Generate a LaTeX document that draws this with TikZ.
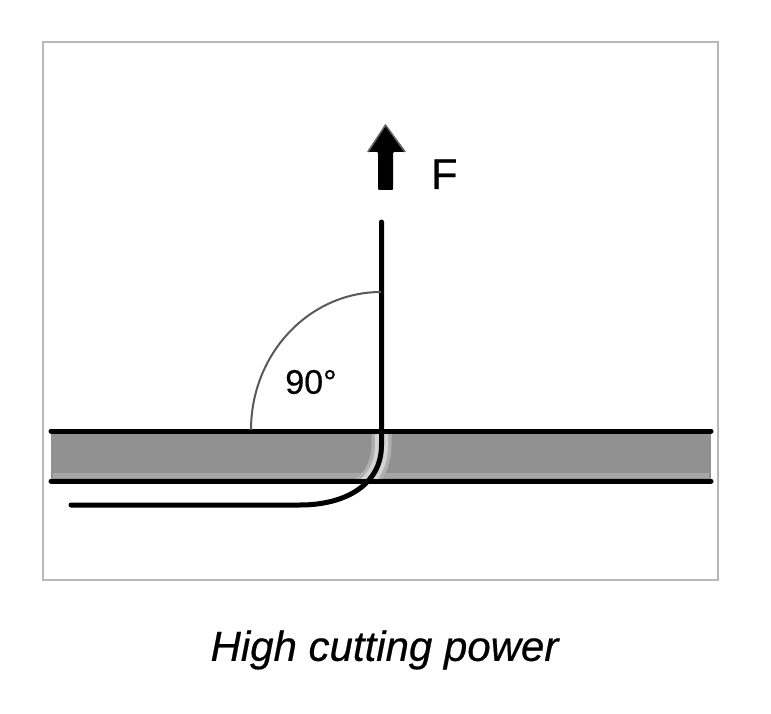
\documentclass[tikz,border=0pt]{standalone}
\usepackage{fontspec}
\setmainfont{Liberation Sans}
\newfontfamily\heavyfont[FakeBold=0.5]{Liberation Sans}
\usepackage{xcolor}
\usetikzlibrary{shapes,arrows,positioning}

\definecolor{framegray}{gray}{0.72}
\definecolor{platefill}{gray}{0.57}
\definecolor{platebevel}{gray}{0.65}
\definecolor{halogray}{gray}{0.83}

\begin{document}
\begin{tikzpicture}[
    x=1pt, y=-1pt,
    frame/.style={draw=framegray, line width=2pt, fill=white},
    edge/.style={black, line width=5pt, line cap=round},
    wire/.style={black, line width=5pt, line cap=round},
    halo/.style={line width=#1, line cap=butt},
    label/.style={inner sep=0pt, text=black}
]
    \useasboundingbox (0,0) rectangle (771,714);
    \fill[white] (0,0) rectangle (771,714);

    % Frame
    \draw[frame] (43,42) rectangle (718,580);

    % Coordinates of the plate and wire
    \coordinate (plateTL) at (51,431);
    \coordinate (plateTR) at (711,431);
    \coordinate (plateBL) at (51,481);
    \coordinate (plateBR) at (711,481);
    \coordinate (wireStart) at (71,505);
    \coordinate (wireFlat) at (300,505);
    \coordinate (wireBend) at (381.5,445);
    \coordinate (wireEnd) at (381.5,222);

    % Plate
    \fill[platefill] (plateTL) rectangle (plateBR);
    \draw[platebevel, line width=5pt] (53,475) -- (709,475);
    \begin{scope}
        \clip (plateTL) rectangle (plateBR);
        \draw[halo=20pt, platefill!55!halogray] (wireEnd) -- (wireBend) .. controls (381.5,485) and (345,505) .. (wireFlat);
        \draw[halo=13pt, halogray] (wireEnd) -- (wireBend) .. controls (381.5,485) and (345,505) .. (wireFlat);
    \end{scope}
    \draw[edge] (plateTL) -- (plateTR);
    \draw[edge] (plateBL) -- (plateBR);

    % Wire
    \draw[wire] (wireStart) -- (wireFlat) .. controls (345,505) and (381.5,485) .. (wireBend) -- (wireEnd);

    % Angle
    \coordinate (arcStart) at (251,430);
    \draw[black!65, line width=2pt] (arcStart) arc[start angle=180, end angle=90, x radius=130pt, y radius=138pt];
    \node[label, font=\heavyfont\fontsize{34}{34}\selectfont] (angle) at (311,382) {90°};

    % Force
    \fill[black, rounded corners=1pt] (378,190) -- (378,152) -- (367,152) -- (385.5,125) -- (406,152) -- (393,152) -- (393,190) -- cycle;
    \draw[black!60, line width=1.5pt, line join=round] (368,152) -- (385.5,125) -- (405,152);
    \node[label, font=\heavyfont\fontsize{43}{43}\selectfont, anchor=base west] (force) at (431,189) {F};

    % Caption
    \node[label, font=\heavyfont\fontsize{42}{42}\selectfont\itshape] (caption) at (384.5,650) {High cutting power};
\end{tikzpicture}
\end{document}
